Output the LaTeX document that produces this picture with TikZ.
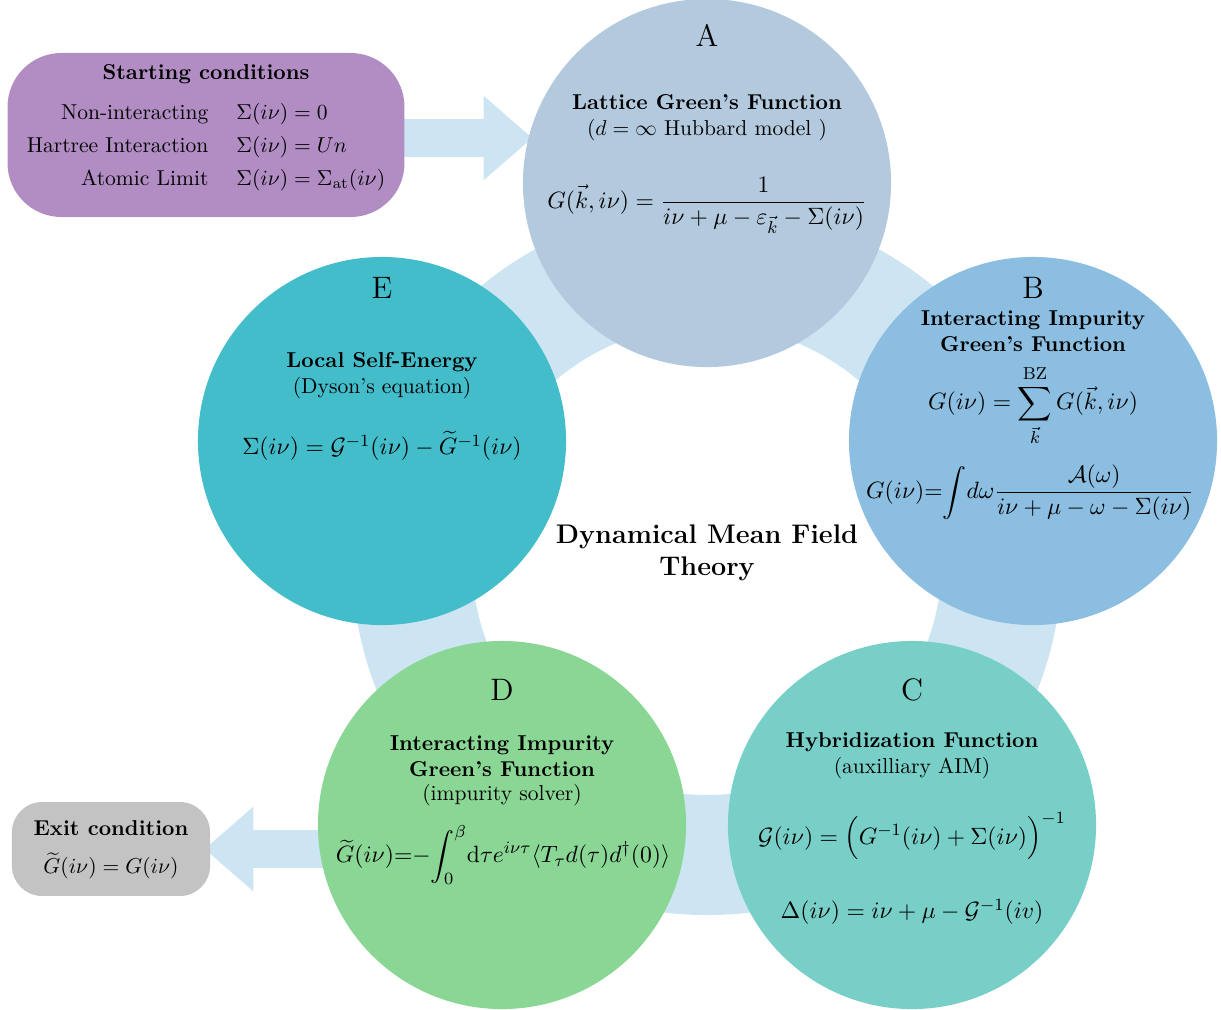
\documentclass[tikz,border=0pt]{standalone}
\usepackage{amsmath,amssymb}
\usetikzlibrary{arrows.meta,backgrounds}
\definecolor{ringblue}{HTML}{CDE5F2}
\definecolor{cA}{HTML}{B3C9DE}
\definecolor{cB}{HTML}{8BBEE0}
\definecolor{cC}{HTML}{77CFC8}
\definecolor{cD}{HTML}{8AD694}
\definecolor{cE}{HTML}{44BDCB}
\definecolor{cstart}{HTML}{B18DC3}
\definecolor{cexit}{HTML}{C3C3C3}

\tikzset{dmftc/.style={circle,inner sep=0pt,minimum size=170.8pt},
         dmftlet/.style={font=\Large},
         dmfttxt/.style={align=center,inner sep=0pt},
         dmfteq/.style={dmfttxt,font=\fontsize{11.1}{13.3}\selectfont},
         dmftbig/.style={draw=ringblue,line width=17.2pt,-{Triangle[width=37.8pt,length=22.7pt]}}}

\begin{document}
\begin{tikzpicture}[x=0.464pt,y=-0.464pt]
    \useasboundingbox (0,0) rectangle (1221,1009);
    \node[dmftc,fill=cA] (A) at (707,183) {};
    \node[dmftc,fill=cB] (B) at (1033,441) {};
    \node[dmftc,fill=cC] (C) at (912,825) {};
    \node[dmftc,fill=cD] (D) at (502,825) {};
    \node[dmftc,fill=cE] (E) at (382,441) {};
    \foreach \n/\x/\y in {A/707/35,B/1033/288,C/912/690,D/502/690,E/382/288}
      {\node[dmftlet] (l\n) at (\x,\y) {\n};}
    \node[dmfttxt,font=\fontsize{12.5}{15}\selectfont\bfseries] (title) at (707,553) {Dynamical Mean Field\\Theory};
    % A
    \node[dmfttxt] (hA) at (707,102) {\textbf{Lattice Green's Function}};
    \node[dmfttxt] (sA) at (707,130) {($d=\infty$ Hubbard model )};
    \node[dmfteq] (eA) at (707,205)
      {$G(\vec{k},i\nu)=\dfrac{1}{i\nu+\mu-\varepsilon_{\vec{k}}-\Sigma(i\nu)}$};
    % B
    \node[dmfttxt,font=\bfseries] (hB) at (1033,331) {Interacting Impurity\\Green's Function};
    \node[dmfteq] (eB1) at (1033,406)
      {$\displaystyle G(i\nu)=\sum_{\vec{k}}^{\mathrm{BZ}}G(\vec{k},i\nu)$};
    \node[dmfteq] (eB2) at (1030,493)
      {$\displaystyle G(i\nu){=}\!\int\! d\omega\frac{\mathcal{A}(\omega)}{i\nu+\mu-\omega-\Sigma(i\nu)}$};
    % C
    \node[dmfttxt] (hC) at (912,742) {\textbf{Hybridization Function}};
    \node[dmfttxt] (sC) at (912,768) {(auxilliary AIM)};
    \node[dmfteq] (eC1) at (912,836)
      {$\mathcal{G}(i\nu)=\Big(G^{-1}(i\nu)+\Sigma(i\nu)\Big)^{-1}$};
    \node[dmfteq] (eC2) at (912,912) {$\Delta(i\nu)=i\nu+\mu-\mathcal{G}^{-1}(iv)$};
    % D
    \node[dmfttxt,font=\bfseries] (hD) at (502,756) {Interacting Impurity\\Green's Function};
    \node[dmfttxt] (sD) at (502,795) {(impurity solver)};
    \node[dmfteq] (eD) at (503,855)
      {$\displaystyle \widetilde{G}(i\nu){=}{-}\!\int_0^\beta\!\mathrm{d}\tau e^{i\nu\tau}\langle T_\tau d(\tau)d^\dagger(0)\rangle$};
    % E
    \node[dmfttxt] (hE) at (382,362) {\textbf{Local Self-Energy}};
    \node[dmfttxt] (sE) at (382,388) {(Dyson's equation)};
    \node[dmfteq] (eE) at (382,446)
      {$\Sigma(i\nu)=\mathcal{G}^{-1}(i\nu)-\widetilde{G}^{-1}(i\nu)$};
    % start and exit
    \node[fill=cstart,rounded corners=25pt,minimum width=184.2pt,minimum height=76.1pt] (start) at (206,135) {};
    \node[dmfttxt] (hS) at (206,74) {\textbf{Starting conditions}};
    \node[dmfttxt] (tS) at (206,146)
      {\renewcommand{\arraystretch}{1.28}\begin{tabular}{r@{\hspace{13pt}}l}
        Non-interacting & $\Sigma(i\nu)=0$\\
        Hartree Interaction & $\Sigma(i\nu)=Un$\\
        Atomic Limit & $\Sigma(i\nu)=\Sigma_{\mathrm{at}}(i\nu)$
      \end{tabular}};
    \node[fill=cexit,rounded corners=14pt,minimum width=91.9pt,minimum height=43.6pt] (exit) at (111,849) {};
    \node[dmfttxt] (hX) at (111,828) {\textbf{Exit condition}};
    \node[dmfttxt] (eX) at (111,866) {$\widetilde{G}(i\nu)=G(i\nu)$};
    % the loop and the two arrows, behind everything
    \begin{pgfonlayer}{background}
      \draw[ringblue,line width=55.7pt] (707,560) circle (136.9pt);
      \draw[dmftbig] ([yshift=-1.4pt]start.center) -- ([xshift=4.6pt,yshift=-1.4pt]start.center -| A.west);
      \draw[dmftbig] (D.center |- exit.east) -- ([xshift=-2.8pt]exit.east);
    \end{pgfonlayer}
  \end{tikzpicture}
\end{document}
